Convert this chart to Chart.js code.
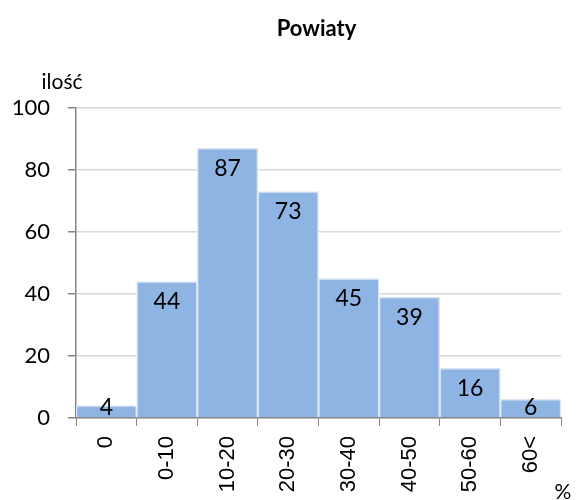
<!DOCTYPE html>
<html>
<head>
<meta charset="utf-8">
<script src="https://cdn.jsdelivr.net/npm/chart.js@4"></script>
<style>
  html, body { margin: 0; padding: 0; background: #fff; }
</style>
</head>
<body>
<canvas id="chart" width="576" height="500"></canvas>
<script>
/* data */
const categories = ["0", "0-10", "10-20", "20-30", "30-40", "40-50", "50-60", "60<"];
const counts = [4, 44, 87, 73, 45, 39, 16, 6];
const yTicks = [0, 20, 40, 60, 80, 100];

const FONT = "Lato, 'Open Sans', sans-serif";

/* title, labels inside bars, axis names */
const labelsPlugin = {
  id: "labels",
  afterDatasetsDraw(chart) {
    const ctx = chart.ctx;
    const meta = chart.getDatasetMeta(0);
    const base = chart.scales.y.getPixelForValue(0);
    ctx.save();
    ctx.fillStyle = "#000";
    ctx.font = "23px " + FONT;
    ctx.textAlign = "center";
    ctx.textBaseline = "middle";
    meta.data.forEach((bar, i) => {
      const y = Math.min(bar.y + 20, base - 10);
      ctx.fillText(String(counts[i]), bar.x, y);
    });
    ctx.restore();
  },
  afterDraw(chart) {
    const ctx = chart.ctx;
    const area = chart.chartArea;
    ctx.save();
    ctx.fillStyle = "#000";
    ctx.textAlign = "center";
    ctx.textBaseline = "middle";
    ctx.font = "bold 22px " + FONT;
    ctx.fillText("Powiaty", (area.left + area.right) / 2 - 2, 29);
    ctx.font = "21px " + FONT;
    ctx.fillText("ilość", 62, 82);
    ctx.fillText("%", 563, 492);
    ctx.restore();
  }
};

new Chart(document.getElementById("chart"), {
  type: "bar",
  data: {
    labels: categories,
    datasets: [{
      data: counts,
      backgroundColor: "#8eb4e3",
      borderColor: "#dce6f2",
      borderWidth: 1.5,
      categoryPercentage: 1,
      barPercentage: 1
    }]
  },
  options: {
    responsive: false,
    animation: false,
    devicePixelRatio: 1,
    layout: { padding: { left: 0, right: 15, top: 108, bottom: 0 } },
    plugins: {
      legend: { display: false },
      tooltip: { enabled: false },
      title: { display: false }
    },
    scales: {
      x: {
        afterFit(scale) {
          scale.height = 82;
        },
        grid: {
          drawOnChartArea: false,
          color: "#868686",
          tickLength: 8,
          offset: true
        },
        border: { color: "#868686", width: 1.5 },
        ticks: {
          color: "#000",
          font: { family: "'Liberation Sans', sans-serif", size: 22 },
          minRotation: 90,
          maxRotation: 90,
          padding: 10
        }
      },
      y: {
        min: 0,
        max: 100,
        afterFit(scale) {
          scale.width = 76;
        },
        afterBuildTicks(scale) {
          scale.ticks = yTicks.map(v => ({ value: v }));
        },
        grid: {
          color: "#d9d9d9",
          lineWidth: 1.5,
          tickLength: 8,
          tickColor: "#868686"
        },
        border: { color: "#868686", width: 1.5 },
        ticks: {
          color: "#000",
          font: { family: FONT, size: 22 },
          padding: 18
        }
      }
    }
  },
  plugins: [labelsPlugin]
});
</script>
</body>
</html>
